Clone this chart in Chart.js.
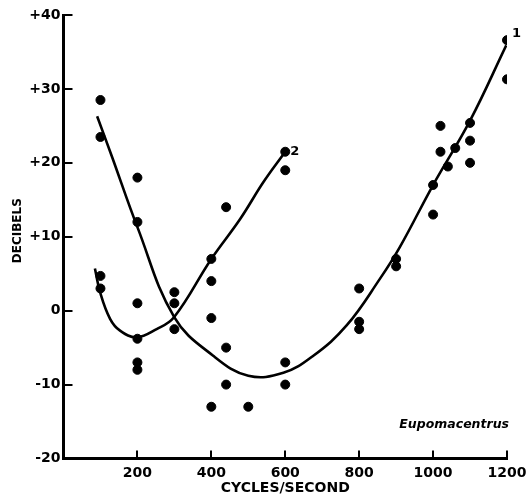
<!DOCTYPE html>
<html>
<head>
<meta charset="utf-8">
<script src="https://cdn.jsdelivr.net/npm/chart.js@4"></script>
<style>
  html, body { margin: 0; padding: 0; background: #fff; }
  canvas { display: block; }
</style>
</head>
<body>
<canvas id="chart" width="529" height="497"></canvas>
<script>
// measured points, curve 1
const freq1 = [100, 100, 200, 200, 300, 400, 400, 440, 440, 500, 600, 600,
  800, 800, 800, 900, 900, 1000, 1000, 1020, 1020, 1040, 1060, 1100, 1100, 1100, 1200, 1200];
const db1 = [28.5, 23.5, 18, 12, -2.5, -1, -13, -5, -10, -13, -7, -10,
  3, -1.5, -2.5, 7, 6, 17, 13, 25, 21.5, 19.5, 22, 25.4, 23, 20, 36.6, 31.3];

// measured points, curve 2
const freq2 = [100, 100, 200, 200, 200, 200, 300, 300, 400, 400, 440, 600, 600];
const db2 = [4.7, 3, 1, -3.8, -7, -8, 2.5, 1, 7, 4, 14, 21.5, 19];

// hand-fitted curves
const fit1Freq = [91, 130, 200, 300, 405, 500, 595, 676, 766, 856, 910, 1000, 1100, 1198];
const fit1Db = [26.3, 21, 11.3, -0.9, -6.1, -8.8, -8.4, -6.1, -2, 4.3, 8.6, 17, 25.7, 35.9];
const fit2Freq = [85, 99, 126, 153, 198, 252, 299, 400, 478, 541, 597];
const fit2Db = [5.7, 2.5, -1.1, -2.7, -3.6, -2.5, -0.9, 7, 12.4, 17.4, 21.3];

const xTicks = [200, 400, 600, 800, 1000, 1200];
const yTicks = [-20, -10, 0, 10, 20, 30, 40];

const toXY = (xs, ys) => xs.map((x, i) => ({ x: x, y: ys[i] }));

const FONT = 'DejaVu Sans';

// titles, curve numbers and inward tick marks
const extras = {
  id: 'extras',
  afterDraw(chart) {
    const { ctx, chartArea, scales } = chart;
    const x = scales.x, y = scales.y;
    ctx.save();
    ctx.strokeStyle = '#000';
    ctx.lineWidth = 2;
    xTicks.forEach(v => {
      const px = Math.round(x.getPixelForValue(v));
      ctx.beginPath();
      ctx.moveTo(px, chartArea.bottom);
      ctx.lineTo(px, chartArea.bottom - 8);
      ctx.stroke();
    });
    yTicks.forEach(v => {
      const py = Math.round(y.getPixelForValue(v));
      ctx.beginPath();
      ctx.moveTo(chartArea.left, py);
      ctx.lineTo(chartArea.left + 9, py);
      ctx.stroke();
    });

    ctx.fillStyle = '#000';
    ctx.textBaseline = 'middle';

    ctx.font = 'bold 13px "' + FONT + '"';
    ctx.textAlign = 'left';
    ctx.fillText('1', x.getPixelForValue(1200) + 5, y.getPixelForValue(37.5));
    ctx.fillText('2', x.getPixelForValue(600) + 5, y.getPixelForValue(21.5));

    ctx.font = 'italic bold 12.5px "' + FONT + '"';
    ctx.textAlign = 'right';
    ctx.fillText('Eupomacentrus', chartArea.right + 2, y.getPixelForValue(-15.5));

    ctx.font = 'bold 14px "' + FONT + '"';
    ctx.textAlign = 'center';
    ctx.fillText('CYCLES/SECOND', (chartArea.left + chartArea.right) / 2, 488);

    ctx.translate(18, (chartArea.top + chartArea.bottom) / 2 - 6);
    ctx.rotate(-Math.PI / 2);
    ctx.font = 'bold 12px "' + FONT + '"';
    ctx.fillText('DECIBELS', 0, 0);
    ctx.restore();
  }
};

new Chart(document.getElementById('chart'), {
  type: 'scatter',
  data: {
    datasets: [
      {
        label: '1',
        data: toXY(freq1, db1),
        backgroundColor: '#000',
        borderColor: '#000',
        pointRadius: 4.5,
        pointHoverRadius: 4.5,
      },
      {
        label: '2',
        data: toXY(freq2, db2),
        backgroundColor: '#000',
        borderColor: '#000',
        pointRadius: 4.5,
        pointHoverRadius: 4.5,
      },
      {
        label: 'fit 1',
        data: toXY(fit1Freq, fit1Db),
        showLine: true,
        borderColor: '#000',
        borderWidth: 2.6,
        pointRadius: 0,
        tension: 0.4,
      },
      {
        label: 'fit 2',
        data: toXY(fit2Freq, fit2Db),
        showLine: true,
        borderColor: '#000',
        borderWidth: 2.6,
        pointRadius: 0,
        tension: 0.4,
      },
    ],
  },
  options: {
    responsive: false,
    animation: false,
    events: [],
    layout: { padding: { left: 0, right: 22, top: 15, bottom: 0 } },
    plugins: {
      legend: { display: false },
      tooltip: { enabled: false },
    },
    scales: {
      x: {
        type: 'linear',
        min: 0,
        max: 1200,
        afterFit: s => {
          s.height = 38.5;
          s.paddingLeft = 0;
          s.paddingRight = 0;
        },
        grid: { display: false, drawTicks: false },
        border: { display: true, color: '#000', width: 3 },
        afterBuildTicks: s => { s.ticks = xTicks.map(v => ({ value: v })); },
        ticks: {
          color: '#000',
          padding: 6,
          maxRotation: 0,
          font: { family: FONT, size: 14, weight: 'bold' },
          callback: v => String(v),
        },
      },
      y: {
        type: 'linear',
        min: -20,
        max: 40,
        afterFit: s => {
          s.width = 63.5;
          s.paddingTop = 0;
          s.paddingBottom = 0;
        },
        grid: { display: false, drawTicks: false },
        border: { display: true, color: '#000', width: 3 },
        afterBuildTicks: s => { s.ticks = yTicks.map(v => ({ value: v })); },
        ticks: {
          color: '#000',
          padding: 3,
          font: { family: FONT, size: 14, weight: 'bold' },
          callback: v => (v > 0 ? '+' + v : String(v)),
        },
      },
    },
  },
  plugins: [extras],
});
</script>
</body>
</html>
